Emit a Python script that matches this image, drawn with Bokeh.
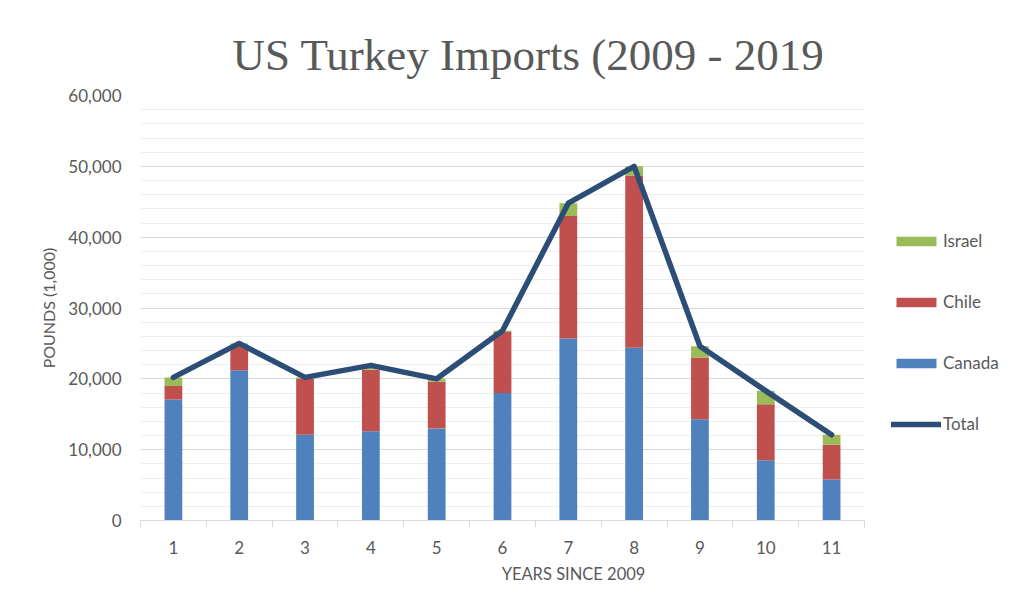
from bokeh.plotting import figure
from bokeh.models import (ColumnDataSource, Range1d, FixedTicker, SingleIntervalTicker,
                          NumeralTickFormatter, Legend, LegendItem, BoxAnnotation)
from bokeh.embed import file_html
from bokeh.resources import INLINE

# ---- data ----
years = [1, 2, 3, 4, 5, 6, 7, 8, 9, 10, 11]
canada = [17100, 21200, 12100, 12600, 13000, 18000, 25700, 24400, 14300, 8500, 5800]
chile = [1900, 3500, 7900, 8700, 6600, 8600, 17300, 24300, 8700, 7900, 4900]
israel = [1200, 300, 200, 600, 400, 200, 1800, 1300, 1600, 1900, 1400]
total = [c + h + i for c, h, i in zip(canada, chile, israel)]
tick_labels = [str(y) for y in years]

series = ["Canada", "Chile", "Israel"]
colors = ["#4F81BD", "#C0504D", "#9BBB59"]
line_color = "#2C4D75"
text_grey = "#595959"
FONT = "Lato"

source = ColumnDataSource(dict(year=years, Canada=canada, Chile=chile,
                               Israel=israel, total=total))

# plot area: categories occupy 724 px; the frame continues to the right edge
# so that the legend can sit beside the bars
W, H = 1006, 596
LEFT, TOP, BOTTOM = 140, 95, 76
cat_px = 724.0
x_lo = years[0] - 0.5
x_hi_axis = years[-1] + 0.5
x_hi = x_lo + (W - LEFT) * (x_hi_axis - x_lo) / cat_px

p = figure(width=W, height=H, output_backend="svg", toolbar_location=None,
           x_range=Range1d(x_lo, x_hi), y_range=Range1d(0, 60000),
           min_border_left=LEFT, min_border_right=0, min_border_top=TOP,
           min_border_bottom=BOTTOM)
p.outline_line_color = None
p.background_fill_color = "white"
p.border_fill_color = "white"

# title
p.title.text = "US Turkey Imports (2009 - 2019"
p.title.text_font = "Liberation Serif"
p.title.text_font_size = "45px"
p.title.text_font_style = "normal"
p.title.text_color = text_grey
p.title.align = "left"
p.title.offset = 92
p.title.standoff = 31

p.xgrid.grid_line_color = None
p.ygrid.grid_line_color = "#D9D9D9"
p.ygrid.minor_grid_line_color = "#EEEEEE"

# hide the grid to the right of the category area (legend zone)
p.add_layout(BoxAnnotation(left=x_hi_axis, fill_color="white", fill_alpha=1.0,
                           line_color=None, level="underlay"))

bars = p.vbar_stack(series, x="year", width=0.27, color=colors, line_color=None,
                    source=source)
tot = p.line(x="year", y="total", source=source, line_width=5.5, color=line_color,
             line_cap="round", line_join="round")

# x axis
xa = p.xaxis[0]
xa.bounds = (x_lo, x_hi_axis)
xa.ticker = FixedTicker(ticks=years, minor_ticks=[y - 0.5 for y in years] + [years[-1] + 0.5])
xa.major_label_overrides = {y: l for y, l in zip(years, tick_labels)}
xa.axis_line_color = "#D9D9D9"
xa.major_tick_out = 0
xa.major_tick_in = 0
xa.minor_tick_out = 7
xa.minor_tick_in = 0
xa.minor_tick_line_color = "#D9D9D9"
xa.major_label_text_font = FONT
xa.major_label_text_font_size = "17px"
xa.major_label_text_color = text_grey
xa.major_label_standoff = 13
xa.axis_label = "YEARS SINCE 2009"
xa.axis_label_text_font = FONT
xa.axis_label_text_font_size = "16.5px"
xa.axis_label_text_font_style = "normal"
xa.axis_label_text_color = text_grey
xa.axis_label_standoff = 7

# y axis
ya = p.yaxis[0]
ya.ticker = SingleIntervalTicker(interval=10000, num_minor_ticks=5)
ya.formatter = NumeralTickFormatter(format="0,0")
ya.axis_line_color = None
ya.major_tick_line_color = None
ya.minor_tick_line_color = None
ya.major_tick_out = 0
ya.minor_tick_out = 0
ya.major_label_text_font = FONT
ya.major_label_text_font_size = "17px"
ya.major_label_text_color = text_grey
ya.major_label_standoff = 19
ya.axis_label = "POUNDS (1,000)"
ya.axis_label_text_font = FONT
ya.axis_label_text_font_size = "16px"
ya.axis_label_text_font_style = "normal"
ya.axis_label_text_color = text_grey
ya.axis_label_standoff = 7

legend = Legend(items=[
    LegendItem(label="Israel", renderers=[bars[2]]),
    LegendItem(label="Chile", renderers=[bars[1]]),
    LegendItem(label="Canada", renderers=[bars[0]]),
    LegendItem(label="Total", renderers=[tot]),
], location=(751, 86), orientation="vertical")
legend.padding = 0
legend.margin = 0
legend.spacing = 40
legend.glyph_width = 50
legend.glyph_height = 12
legend.label_height = 20
legend.label_standoff = 2
legend.label_text_font = FONT
legend.label_text_font_size = "17px"
legend.label_text_color = text_grey
legend.border_line_color = None
legend.background_fill_alpha = 0
p.add_layout(legend, "center")

open("out.html", "w").write(file_html(p, INLINE))
